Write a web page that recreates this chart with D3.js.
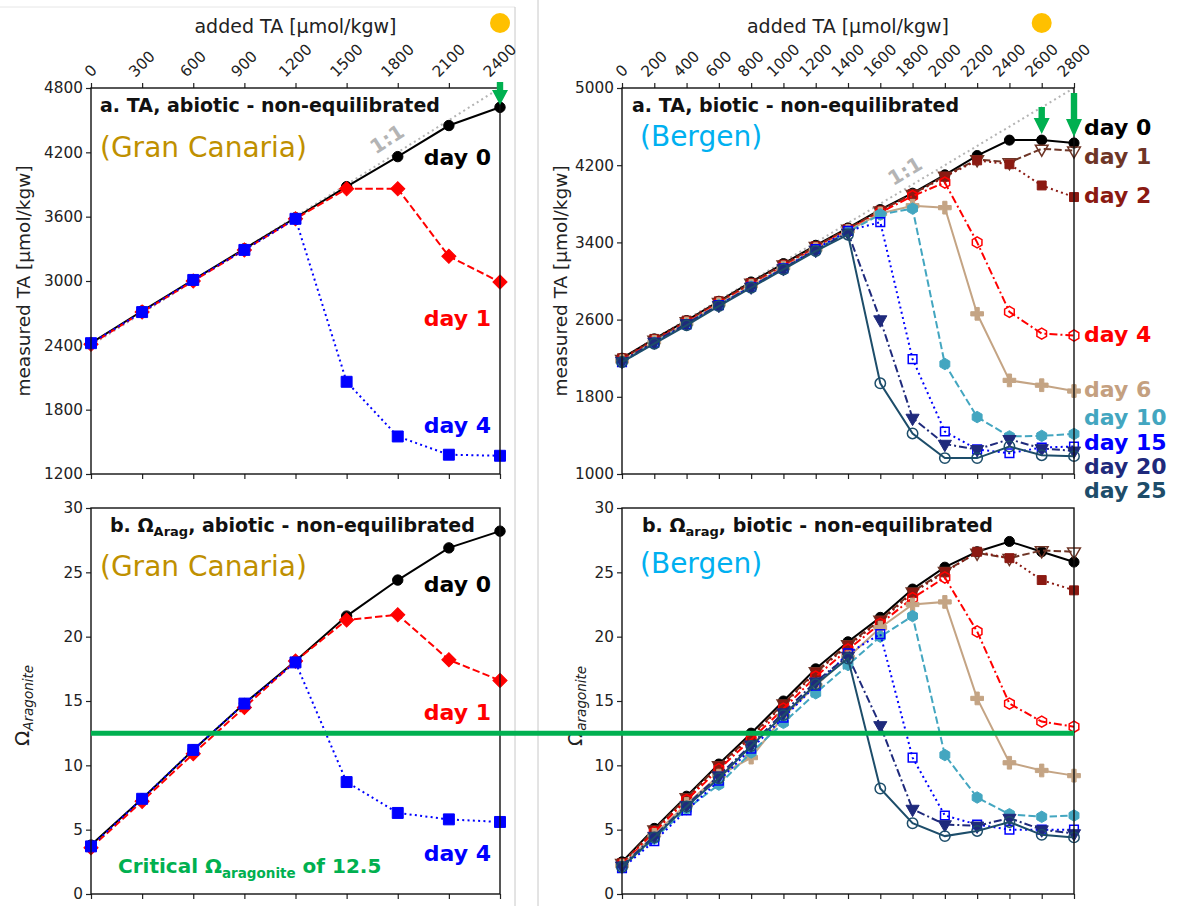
<!DOCTYPE html>
<html>
<head>
<meta charset="utf-8">
<script src="https://cdn.jsdelivr.net/npm/d3@7"></script>
<style>
  body { margin: 0; background: #fff; }
  svg { font-family: "DejaVu Sans", sans-serif; }
</style>
</head>
<body>
<svg id="chart" width="1193" height="906"></svg>
<script>
(function() {

  // ---- data ----
  var gcAdded = [0, 300, 600, 900, 1200, 1500, 1800, 2100, 2400];
  var bgAdded = [0, 200, 400, 600, 800, 1000, 1200, 1400, 1600, 1800, 2000, 2200, 2400, 2600, 2800];

  var gcTicksTA = [1200, 1800, 2400, 3000, 3600, 4200, 4800];
  var bgTicksTA = [1000, 1800, 2600, 3400, 4200, 5000];
  var omTicks = [0, 5, 10, 15, 20, 25, 30];

  // Gran Canaria, abiotic
  var gcTaDay0 = [2420, 2720, 3010, 3300, 3590, 3880, 4160, 4450, 4620];
  var gcTaDay1 = [2410, 2710, 3000, 3290, 3580, 3860, 3860, 3230, 2990];
  var gcTaDay4 = [2420, 2710, 3010, 3290, 3580, 2060, 1550, 1380, 1370];

  var gcOmDay0 = [3.8, 7.4, 11.2, 14.8, 18.1, 21.6, 24.4, 26.9, 28.2];
  var gcOmDay1 = [3.6, 7.2, 10.9, 14.5, 18.1, 21.3, 21.7, 18.2, 16.6];
  var gcOmDay4 = [3.7, 7.4, 11.2, 14.8, 18.0, 8.7, 6.3, 5.8, 5.6];

  // Bergen, biotic
  var bgTaDay0  = [2200, 2400, 2590, 2790, 2990, 3180, 3370, 3550, 3740, 3910, 4100, 4300, 4460, 4460, 4430];
  var bgTaDay1  = [2190, 2390, 2580, 2780, 2980, 3170, 3360, 3540, 3730, 3900, 4090, 4260, 4230, 4370, 4350];
  var bgTaDay2  = [2200, 2400, 2590, 2790, 2980, 3170, 3360, 3540, 3730, 3900, 4080, 4250, 4210, 3990, 3870];
  var bgTaDay4  = [2180, 2380, 2570, 2770, 2960, 3150, 3340, 3530, 3710, 3880, 4020, 3400, 2680, 2455, 2435];
  var bgTaDay6  = [2170, 2370, 2560, 2760, 2950, 3140, 3330, 3520, 3700, 3780, 3760, 2660, 1970, 1920, 1860];
  var bgTaDay10 = [2160, 2360, 2550, 2750, 2940, 3130, 3320, 3510, 3690, 3750, 2140, 1590, 1390, 1395, 1415];
  var bgTaDay15 = [2160, 2360, 2550, 2750, 2940, 3130, 3330, 3520, 3610, 2190, 1440, 1255, 1215, 1275, 1285];
  var bgTaDay20 = [2170, 2370, 2560, 2750, 2940, 3130, 3320, 3500, 2600, 1580, 1310, 1255, 1360, 1265, 1240];
  var bgTaDay25 = [2160, 2350, 2540, 2740, 2930, 3120, 3310, 3480, 1940, 1420, 1165, 1165, 1285, 1195, 1185];

  var bgOmDay0  = [2.5, 5.1, 7.6, 10.1, 12.5, 15.0, 17.5, 19.6, 21.5, 23.7, 25.4, 26.6, 27.4, 26.6, 25.8];
  var bgOmDay1  = [2.4, 5.0, 7.5, 10.0, 12.3, 14.8, 17.3, 19.4, 21.3, 23.5, 25.1, 26.5, 26.1, 26.7, 26.6];
  var bgOmDay2  = [2.4, 4.9, 7.4, 9.9, 12.2, 14.7, 17.2, 19.3, 21.2, 23.4, 25.0, 26.6, 26.1, 24.4, 23.6];
  var bgOmDay4  = [2.3, 4.8, 7.3, 9.7, 12.0, 14.4, 16.9, 19.0, 21.0, 23.0, 24.6, 20.4, 14.8, 13.4, 13.0];
  var bgOmDay6  = [2.2, 4.6, 7.0, 9.2, 10.6, 13.8, 16.2, 18.4, 20.7, 22.5, 22.7, 15.2, 10.2, 9.6, 9.2];
  var bgOmDay10 = [2.1, 4.3, 6.6, 8.5, 11.0, 13.3, 15.6, 17.8, 20.0, 21.6, 10.8, 7.5, 6.2, 6.0, 6.1];
  var bgOmDay15 = [2.0, 4.1, 6.5, 8.8, 11.3, 13.7, 16.2, 18.7, 20.2, 10.6, 6.1, 5.4, 5.0, 5.0, 5.0];
  var bgOmDay20 = [2.2, 4.5, 6.9, 9.2, 11.6, 14.1, 16.5, 18.5, 13.1, 6.6, 5.4, 5.3, 5.9, 5.0, 4.7];
  var bgOmDay25 = [2.1, 4.4, 6.8, 9.0, 11.5, 13.9, 16.3, 18.3, 8.2, 5.5, 4.5, 4.9, 5.6, 4.6, 4.4];

  var criticalOmega = 12.5;

  // ---- style of each series ----
  var DOTTED = "2,3.3", DASHED = "7.4,3.2", DASHDOT = "8,3,2,3";

  var gcStyles = [
    { label: "day 0", color: "#000000", dash: null,    shape: "circle",  open: false, size: 85 },
    { label: "day 1", color: "#ff0000", dash: DASHED,  shape: "diamond", open: false, size: 100 },
    { label: "day 4", color: "#0000ff", dash: DOTTED,  shape: "square",  open: false, size: 120 }
  ];
  var gcTA = [gcTaDay0, gcTaDay1, gcTaDay4];
  var gcOm = [gcOmDay0, gcOmDay1, gcOmDay4];

  var bgStyles = [
    { label: "day 0",  color: "#000000", dash: null,    shape: "circle",  open: false, size: 80 },
    { label: "day 1",  color: "#6e3526", dash: DASHED,  shape: "tridown", open: true,  size: 70 },
    { label: "day 2",  color: "#8b1a12", dash: DOTTED,  shape: "square",  open: false, size: 80 },
    { label: "day 4",  color: "#ff0000", dash: DASHDOT, shape: "hexagon", open: true,  size: 80 },
    { label: "day 6",  color: "#c4a484", dash: null,    shape: "plus",    open: false, size: 90 },
    { label: "day 10", color: "#43a6c0", dash: DASHED,  shape: "hexagon", open: false, size: 85 },
    { label: "day 15", color: "#0000ff", dash: DOTTED,  shape: "square",  open: true,  size: 75 },
    { label: "day 20", color: "#1f2a7c", dash: DASHDOT, shape: "tridown", open: false, size: 75 },
    { label: "day 25", color: "#1d4d6a", dash: null,    shape: "circle",  open: true,  size: 85 }
  ];
  var bgTA = [bgTaDay0, bgTaDay1, bgTaDay2, bgTaDay4, bgTaDay6, bgTaDay10, bgTaDay15, bgTaDay20, bgTaDay25];
  var bgOm = [bgOmDay0, bgOmDay1, bgOmDay2, bgOmDay4, bgOmDay6, bgOmDay10, bgOmDay15, bgOmDay20, bgOmDay25];

  var GREEN = "#00b050", ORANGE = "#ffc000", GOLD = "#bf9000", SKY = "#00b0f0";

  var svg = d3.select("#chart");

  // hexagon marker, d3 has none
  var symbolHexagon = {
    draw: function(context, size) {
      var r = Math.sqrt(2 * size / (3 * Math.sqrt(3)));
      for (var i = 0; i < 6; i++) {
        var a = Math.PI / 6 + i * Math.PI / 3;
        if (i === 0) context.moveTo(r * Math.cos(a), r * Math.sin(a));
        else context.lineTo(r * Math.cos(a), r * Math.sin(a));
      }
      context.closePath();
    }
  };

  function markerPath(shape, size) {
    var type = {
      circle: d3.symbolCircle,
      square: d3.symbolSquare,
      diamond: d3.symbolSquare,
      tridown: d3.symbolTriangle,
      plus: d3.symbolCross,
      hexagon: symbolHexagon
    }[shape];
    return d3.symbol().type(type).size(size)();
  }

  function markerRotation(shape) {
    if (shape === "diamond") return " rotate(45)";
    if (shape === "tridown") return " rotate(180)";
    return "";
  }

  // ---- separators from the composite picture ----
  svg.append("line").attr("x1", 0).attr("x2", 515).attr("y1", 7).attr("y2", 7)
    .attr("stroke", "#e6e6e6").attr("stroke-width", 1);
  svg.append("line").attr("x1", 515).attr("x2", 515).attr("y1", 7).attr("y2", 906)
    .attr("stroke", "#c8c8c8").attr("stroke-width", 1);
  svg.append("line").attr("x1", 538).attr("x2", 538).attr("y1", 0).attr("y2", 906)
    .attr("stroke", "#c8c8c8").attr("stroke-width", 1);

  // ---- one panel ----
  function drawPanel(cfg) {
    var g = svg.append("g");
    var x = d3.scaleLinear().domain(cfg.xDomain).range([cfg.left, cfg.right]);
    var y = d3.scaleLinear().domain(cfg.yDomain).range([cfg.bottom, cfg.top]);

    // y axis
    var yAxis = g.append("g")
      .attr("transform", "translate(" + cfg.left + ",0)")
      .call(d3.axisLeft(y).tickValues(cfg.yTicks).tickSize(5).tickPadding(3).tickFormat(d3.format("d")));
    yAxis.select(".domain").remove();
    yAxis.selectAll("text").attr("font-size", 15.3).attr("fill", "#222").attr("font-family", "DejaVu Sans");
    yAxis.selectAll("line").attr("stroke", "#222").attr("stroke-width", 1.2);

    // bottom ticks, no labels
    var xAxis = g.append("g")
      .attr("transform", "translate(0," + cfg.bottom + ")")
      .call(d3.axisBottom(x).tickValues(cfg.xTicks).tickSize(5).tickFormat(""));
    xAxis.select(".domain").remove();
    xAxis.selectAll("line").attr("stroke", "#222").attr("stroke-width", 1.2);

    // top ticks with rotated labels
    if (cfg.topLabels) {
      var topAxis = g.append("g")
        .attr("transform", "translate(0," + cfg.top + ")")
        .call(d3.axisTop(x).tickValues(cfg.xTicks).tickSize(5).tickFormat(""));
      topAxis.select(".domain").remove();
      topAxis.selectAll("line").attr("stroke", "#222").attr("stroke-width", 1.2);

      cfg.xTicks.forEach(function(t) {
        var txt = g.append("text")
          .attr("font-size", 15.3)
          .attr("fill", "#222")
          .attr("text-anchor", "middle")
          .attr("dominant-baseline", "central")
          .text(t);
        var len = txt.node().getComputedTextLength();
        var cy = cfg.top - 9 - (len + 13) * 0.354;
        txt.attr("transform", "translate(" + x(t) + "," + cy + ") rotate(-45)");
      });

      g.append("text")
        .attr("x", (cfg.left + cfg.right) / 2)
        .attr("y", 33)
        .attr("text-anchor", "middle")
        .attr("font-size", 19)
        .attr("fill", "#222")
        .text("added TA [\u00b5mol/kgw]");
    }

    // 1:1 line
    if (cfg.oneToOne) {
      var offset = cfg.yDomain[1] - cfg.xDomain[1];
      g.append("line")
        .attr("x1", x(cfg.xDomain[0])).attr("y1", y(cfg.xDomain[0] + offset))
        .attr("x2", x(cfg.xDomain[1])).attr("y2", y(cfg.xDomain[1] + offset))
        .attr("stroke", "#b4b4b4").attr("stroke-width", 2).attr("stroke-dasharray", "2,3.3");
      g.append("text")
        .attr("transform", "translate(" + cfg.oneToOne[0] + "," + cfg.oneToOne[1] + ") rotate(" + cfg.oneToOne[2] + ")")
        .attr("text-anchor", "middle")
        .attr("dominant-baseline", "central")
        .attr("font-size", 20)
        .attr("font-weight", "bold")
        .attr("fill", "#b4b4b4")
        .text("1:1");
    }

    // series
    var line = d3.line()
      .x(function(d) { return x(d[0]); })
      .y(function(d) { return y(d[1]); });

    cfg.series.forEach(function(values, i) {
      var st = cfg.styles[i];
      var pts = cfg.xValues.map(function(v, j) { return [v, values[j]]; });
      var sg = g.append("g");
      sg.append("path")
        .datum(pts)
        .attr("d", line)
        .attr("fill", "none")
        .attr("stroke", st.color)
        .attr("stroke-width", 2)
        .attr("stroke-dasharray", st.dash);
      sg.selectAll("path.marker")
        .data(pts)
        .enter().append("path")
        .attr("class", "marker")
        .attr("d", markerPath(st.shape, st.size))
        .attr("transform", function(d) {
          return "translate(" + x(d[0]) + "," + y(d[1]) + ")" + markerRotation(st.shape);
        })
        .attr("fill", st.open ? "none" : st.color)
        .attr("stroke", st.color)
        .attr("stroke-width", st.open ? 1.5 : 1);
    });

    // frame
    g.append("rect")
      .attr("x", cfg.left).attr("y", cfg.top)
      .attr("width", cfg.right - cfg.left).attr("height", cfg.bottom - cfg.top)
      .attr("fill", "none").attr("stroke", "#111").attr("stroke-width", 1.4);

    return { x: x, y: y, g: g };
  }

  // ---- panels ----
  var gcTop = drawPanel({
    left: 91, right: 500, top: 88, bottom: 474,
    xDomain: [0, 2400], yDomain: [1200, 4800],
    xTicks: gcAdded, yTicks: gcTicksTA, xValues: gcAdded,
    topLabels: true, oneToOne: [387, 139, -33],
    series: gcTA, styles: gcStyles
  });
  var gcBot = drawPanel({
    left: 91, right: 500, top: 508, bottom: 894,
    xDomain: [0, 2400], yDomain: [0, 30],
    xTicks: gcAdded, yTicks: omTicks, xValues: gcAdded,
    series: gcOm, styles: gcStyles
  });
  var bgTop = drawPanel({
    left: 622, right: 1074, top: 88, bottom: 474,
    xDomain: [0, 2800], yDomain: [1000, 5000],
    xTicks: bgAdded, yTicks: bgTicksTA, xValues: bgAdded,
    topLabels: true, oneToOne: [905, 171, -31],
    series: bgTA, styles: bgStyles
  });
  var bgBot = drawPanel({
    left: 622, right: 1074, top: 508, bottom: 894,
    xDomain: [0, 2800], yDomain: [0, 30],
    xTicks: bgAdded, yTicks: omTicks, xValues: bgAdded,
    series: bgOm, styles: bgStyles
  });

  // ---- axis titles ----
  function yTitleTA(xPos) {
    svg.append("text")
      .attr("transform", "translate(" + xPos + ",281) rotate(-90)")
      .attr("text-anchor", "middle")
      .attr("font-size", 18.5)
      .attr("fill", "#222")
      .text("measured TA [\u00b5mol/kgw]");
  }
  yTitleTA(30);
  yTitleTA(567);

  function yTitleOmega(xPos, sub) {
    var t = svg.append("text")
      .attr("transform", "translate(" + xPos + ",746) rotate(-90)")
      .attr("font-size", 20)
      .attr("fill", "#222");
    t.append("tspan").text("\u03a9");
    t.append("tspan").attr("font-size", 13.5).attr("font-style", "italic").attr("dy", 4).text(sub);
  }
  yTitleOmega(29, "Aragonite");
  yTitleOmega(582, "aragonite");

  // ---- panel titles ----
  function title(xPos, yPos, before, sub, after) {
    var t = svg.append("text")
      .attr("x", xPos).attr("y", yPos)
      .attr("font-size", 19)
      .attr("font-weight", "bold")
      .attr("fill", "#111");
    t.append("tspan").text(before);
    if (sub) {
      t.append("tspan").attr("font-size", 13).attr("dy", 4).text(sub);
      t.append("tspan").attr("dy", -4).text(after);
    }
  }
  title(100, 112, "a. TA, abiotic - non-equilibrated");
  title(632, 112, "a. TA, biotic - non-equilibrated");
  title(110, 532, "b. \u03a9", "Arag", ", abiotic - non-equilibrated");
  title(642, 532, "b. \u03a9", "arag", ", biotic - non-equilibrated");

  function place(xPos, yPos, text, color) {
    svg.append("text")
      .attr("x", xPos).attr("y", yPos)
      .attr("font-size", 28)
      .attr("fill", color)
      .text(text);
  }
  place(100, 157, "(Gran Canaria)", GOLD);
  place(100, 576, "(Gran Canaria)", GOLD);
  place(640, 146, "(Bergen)", SKY);
  place(640, 573, "(Bergen)", SKY);

  // ---- day labels ----
  function dayLabel(xPos, yPos, text, color, anchor) {
    svg.append("text")
      .attr("x", xPos).attr("y", yPos)
      .attr("text-anchor", anchor)
      .attr("font-size", 22)
      .attr("font-weight", "bold")
      .attr("fill", color)
      .text(text);
  }
  dayLabel(491, 165, "day 0", gcStyles[0].color, "end");
  dayLabel(491, 326, "day 1", gcStyles[1].color, "end");
  dayLabel(491, 433, "day 4", gcStyles[2].color, "end");
  dayLabel(491, 592, "day 0", gcStyles[0].color, "end");
  dayLabel(491, 720, "day 1", gcStyles[1].color, "end");
  dayLabel(491, 861, "day 4", gcStyles[2].color, "end");

  var bgLabelY = [135, 164, 203, 342, 397, 425, 450, 474, 498];
  bgStyles.forEach(function(st, i) {
    dayLabel(1084, bgLabelY[i], st.label, st.label === "day 6" ? "#c4a080" : st.color, "start");
  });

  // ---- critical omega line ----
  svg.append("line")
    .attr("x1", gcBot.x(0)).attr("x2", bgBot.x(2800))
    .attr("y1", gcBot.y(criticalOmega)).attr("y2", gcBot.y(criticalOmega))
    .attr("stroke", GREEN).attr("stroke-width", 5);

  var crit = svg.append("text")
    .attr("x", 118).attr("y", 873)
    .attr("font-size", 20)
    .attr("font-weight", "bold")
    .attr("fill", GREEN);
  crit.append("tspan").text("Critical \u03a9");
  crit.append("tspan").attr("font-size", 13.5).attr("dy", 5).text("aragonite");
  crit.append("tspan").attr("dy", -5).text(" of 12.5");

  // ---- orange dots and green arrows ----
  svg.append("circle").attr("cx", gcTop.x(2400)).attr("cy", 23).attr("r", 10).attr("fill", ORANGE);
  svg.append("circle").attr("cx", bgTop.x(2600)).attr("cy", 23).attr("r", 10).attr("fill", ORANGE);

  function arrow(xc, yTop, yHead, yTip) {
    var sw = 3.2, hw = 8;
    svg.append("path")
      .attr("d", "M" + (xc - sw) + "," + yTop + "L" + (xc + sw) + "," + yTop +
        "L" + (xc + sw) + "," + yHead + "L" + (xc + hw) + "," + yHead +
        "L" + xc + "," + yTip + "L" + (xc - hw) + "," + yHead +
        "L" + (xc - sw) + "," + yHead + "Z")
      .attr("fill", GREEN);
  }
  arrow(gcTop.x(2400), 82, 90, 105);
  arrow(bgTop.x(2600), 107, 118, 134);
  arrow(bgTop.x(2800), 93, 119, 137);

}());
</script>
</body>
</html>
